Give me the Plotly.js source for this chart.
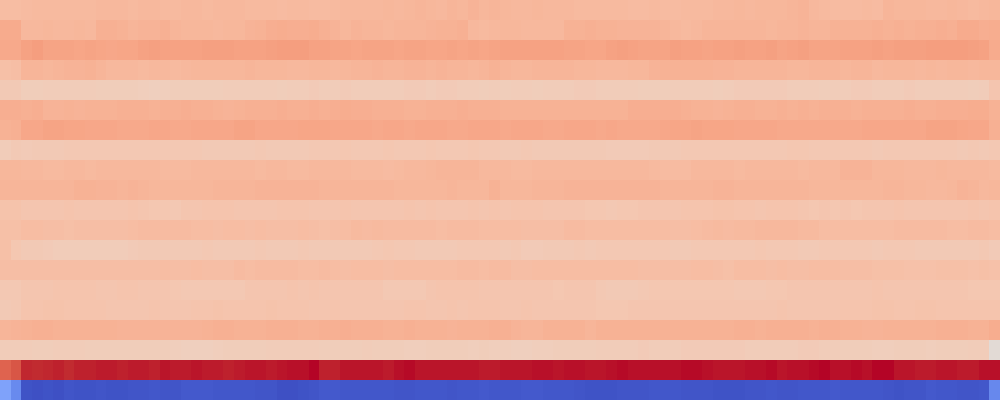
<!DOCTYPE html>
<html>
<head>
<meta charset="utf-8">
<script src="https://cdn.plot.ly/plotly-3.0.1.min.js"></script>
<style>html,body{margin:0;padding:0;background:#fff;}#chart{width:1000px;height:400px;}</style>
</head>
<body>
<div id="chart"></div>
<script>
// Heatmap values: 20 rows (top to bottom) x 94 columns
const row00 = [0.30,0.30,0.31,0.32,0.32,0.32,0.32,0.32,0.32,0.33, 0.33,0.33,0.32,0.33,0.33,0.32,0.32,0.33,0.33,0.32, 0.33,0.33,0.33,0.32,0.32,0.32,0.31,0.32,0.32,0.31, 0.31,0.32,0.33,0.33,0.33,0.33,0.34,0.33,0.34,0.35, 0.34,0.33,0.35,0.34,0.36,0.34,0.35,0.34,0.33,0.33, 0.34,0.33,0.33,0.33,0.32,0.32,0.32,0.32,0.32,0.31, 0.31,0.32,0.31,0.31,0.32,0.32,0.32,0.33,0.33,0.34, 0.33,0.34,0.34,0.34,0.35,0.36,0.33,0.32,0.31,0.31, 0.31,0.32,0.31,0.35,0.34,0.34,0.34,0.33,0.33,0.34, 0.33,0.32,0.33,0.34];
const row01 = [0.41,0.41,0.33,0.33,0.34,0.33,0.33,0.34,0.33,0.38, 0.38,0.37,0.35,0.36,0.36,0.38,0.35,0.34,0.34,0.34, 0.33,0.34,0.34,0.36,0.37,0.39,0.40,0.39,0.39,0.40, 0.38,0.36,0.34,0.36,0.35,0.35,0.34,0.35,0.35,0.35, 0.36,0.37,0.37,0.38,0.33,0.32,0.33,0.34,0.34,0.33, 0.33,0.33,0.33,0.37,0.37,0.38,0.37,0.37,0.36,0.36, 0.36,0.36,0.35,0.33,0.32,0.33,0.35,0.35,0.35,0.35, 0.35,0.35,0.34,0.35,0.35,0.36,0.35,0.35,0.37,0.37, 0.37,0.37,0.38,0.37,0.38,0.37,0.38,0.38,0.39,0.38, 0.41,0.41,0.39,0.40];
const row02 = [0.42,0.42,0.46,0.48,0.45,0.45,0.45,0.44,0.45,0.44, 0.43,0.44,0.44,0.46,0.47,0.46,0.46,0.46,0.46,0.47, 0.47,0.47,0.46,0.46,0.46,0.47,0.48,0.48,0.48,0.46, 0.46,0.45,0.45,0.44,0.45,0.45,0.45,0.44,0.45,0.45, 0.44,0.44,0.45,0.44,0.45,0.44,0.45,0.46,0.46,0.46, 0.46,0.46,0.46,0.45,0.45,0.44,0.44,0.46,0.47,0.46, 0.45,0.45,0.45,0.47,0.46,0.46,0.45,0.46,0.46,0.47, 0.46,0.46,0.47,0.45,0.46,0.47,0.45,0.45,0.45,0.46, 0.46,0.46,0.47,0.46,0.47,0.47,0.47,0.48,0.48,0.48, 0.48,0.47,0.46,0.41];
const row03 = [0.28,0.29,0.35,0.35,0.34,0.35,0.36,0.36,0.37,0.35, 0.33,0.33,0.33,0.32,0.33,0.33,0.32,0.33,0.34,0.34, 0.34,0.34,0.34,0.35,0.34,0.34,0.34,0.33,0.33,0.34, 0.34,0.33,0.34,0.35,0.35,0.36,0.35,0.35,0.36,0.36, 0.35,0.36,0.35,0.35,0.34,0.35,0.37,0.35,0.34,0.34, 0.35,0.35,0.35,0.35,0.34,0.34,0.33,0.33,0.33,0.34, 0.34,0.36,0.37,0.37,0.37,0.37,0.37,0.36,0.36,0.35, 0.35,0.35,0.35,0.35,0.34,0.34,0.35,0.35,0.35,0.34, 0.35,0.35,0.33,0.34,0.34,0.34,0.33,0.34,0.33,0.34, 0.34,0.33,0.34,0.34];
const row04 = [0.21,0.21,0.18,0.18,0.19,0.19,0.19,0.19,0.19,0.18, 0.18,0.18,0.18,0.17,0.16,0.17,0.18,0.18,0.18,0.18, 0.18,0.19,0.19,0.19,0.19,0.19,0.18,0.19,0.19,0.20, 0.19,0.19,0.20,0.19,0.19,0.19,0.19,0.19,0.20,0.20, 0.19,0.20,0.20,0.19,0.19,0.18,0.19,0.18,0.19,0.19, 0.18,0.19,0.19,0.19,0.20,0.20,0.19,0.19,0.19,0.19, 0.18,0.18,0.18,0.19,0.19,0.19,0.19,0.18,0.19,0.20, 0.20,0.20,0.20,0.20,0.19,0.19,0.19,0.18,0.19,0.19, 0.20,0.20,0.19,0.19,0.19,0.20,0.19,0.19,0.19,0.19, 0.19,0.18,0.19,0.24];
const row05 = [0.39,0.39,0.38,0.39,0.36,0.36,0.37,0.36,0.37,0.37, 0.37,0.38,0.38,0.38,0.37,0.38,0.38,0.39,0.38,0.38, 0.37,0.36,0.37,0.38,0.38,0.38,0.39,0.38,0.38,0.39, 0.38,0.39,0.40,0.39,0.39,0.38,0.38,0.38,0.37,0.37, 0.38,0.38,0.38,0.39,0.38,0.38,0.38,0.37,0.37,0.37, 0.37,0.37,0.37,0.37,0.37,0.37,0.37,0.37,0.37,0.39, 0.39,0.39,0.39,0.39,0.38,0.37,0.37,0.36,0.37,0.38, 0.38,0.37,0.37,0.38,0.37,0.38,0.37,0.38,0.38,0.38, 0.37,0.38,0.38,0.38,0.38,0.39,0.38,0.38,0.39,0.39, 0.39,0.40,0.40,0.37];
const row06 = [0.37,0.38,0.43,0.43,0.45,0.45,0.44,0.44,0.43,0.43, 0.43,0.42,0.42,0.42,0.43,0.43,0.42,0.42,0.43,0.43, 0.43,0.43,0.45,0.45,0.43,0.43,0.43,0.43,0.44,0.44, 0.44,0.43,0.43,0.43,0.43,0.42,0.43,0.43,0.42,0.43, 0.43,0.43,0.42,0.42,0.43,0.43,0.43,0.42,0.43,0.43, 0.43,0.42,0.42,0.43,0.43,0.43,0.42,0.43,0.42,0.42, 0.42,0.42,0.43,0.44,0.44,0.45,0.44,0.44,0.44,0.43, 0.43,0.43,0.43,0.42,0.42,0.42,0.42,0.42,0.42,0.42, 0.42,0.43,0.43,0.43,0.43,0.43,0.43,0.45,0.45,0.45, 0.44,0.43,0.43,0.38];
const row07 = [0.19,0.21,0.20,0.21,0.21,0.21,0.22,0.22,0.22,0.22, 0.22,0.22,0.22,0.22,0.22,0.22,0.22,0.22,0.22,0.21, 0.21,0.21,0.21,0.21,0.22,0.21,0.21,0.21,0.21,0.22, 0.22,0.22,0.23,0.22,0.22,0.22,0.23,0.22,0.22,0.22, 0.23,0.22,0.22,0.22,0.23,0.22,0.22,0.21,0.21,0.22, 0.21,0.21,0.21,0.21,0.21,0.21,0.21,0.20,0.20,0.20, 0.20,0.21,0.21,0.21,0.22,0.22,0.22,0.22,0.22,0.22, 0.22,0.22,0.22,0.22,0.23,0.23,0.22,0.22,0.22,0.22, 0.22,0.22,0.21,0.22,0.22,0.22,0.22,0.22,0.22,0.22, 0.21,0.22,0.21,0.22];
const row08 = [0.34,0.34,0.33,0.33,0.32,0.32,0.33,0.33,0.32,0.33, 0.33,0.33,0.33,0.33,0.33,0.32,0.32,0.32,0.33,0.33, 0.33,0.33,0.33,0.33,0.32,0.33,0.33,0.32,0.32,0.33, 0.33,0.33,0.33,0.32,0.32,0.32,0.31,0.32,0.33,0.33, 0.34,0.35,0.35,0.35,0.35,0.33,0.33,0.33,0.32,0.32, 0.33,0.33,0.33,0.33,0.33,0.33,0.33,0.33,0.33,0.33, 0.33,0.32,0.31,0.31,0.31,0.33,0.33,0.33,0.33,0.32, 0.33,0.33,0.33,0.33,0.33,0.32,0.33,0.33,0.33,0.36, 0.36,0.36,0.34,0.34,0.34,0.33,0.33,0.33,0.34,0.33, 0.33,0.33,0.33,0.32];
const row09 = [0.35,0.35,0.35,0.35,0.35,0.35,0.35,0.37,0.37,0.36, 0.36,0.35,0.36,0.35,0.34,0.34,0.34,0.34,0.34,0.34, 0.35,0.35,0.35,0.35,0.36,0.36,0.36,0.36,0.36,0.36, 0.35,0.35,0.35,0.35,0.35,0.35,0.35,0.34,0.34,0.34, 0.34,0.34,0.35,0.34,0.34,0.34,0.37,0.34,0.34,0.34, 0.35,0.35,0.35,0.36,0.36,0.36,0.36,0.36,0.36,0.36, 0.36,0.36,0.35,0.35,0.35,0.35,0.35,0.36,0.36,0.35, 0.35,0.35,0.35,0.35,0.35,0.35,0.34,0.34,0.34,0.34, 0.34,0.34,0.34,0.35,0.35,0.34,0.34,0.33,0.33,0.34, 0.36,0.35,0.33,0.34];
const row10 = [0.26,0.26,0.24,0.24,0.24,0.24,0.25,0.24,0.24,0.24, 0.24,0.24,0.25,0.24,0.23,0.23,0.22,0.24,0.24,0.25, 0.25,0.25,0.24,0.24,0.24,0.24,0.25,0.25,0.25,0.24, 0.24,0.24,0.25,0.24,0.24,0.24,0.24,0.24,0.25,0.24, 0.25,0.24,0.24,0.24,0.25,0.24,0.25,0.24,0.25,0.25, 0.25,0.24,0.24,0.24,0.24,0.23,0.23,0.22,0.23,0.23, 0.24,0.24,0.24,0.24,0.25,0.25,0.25,0.26,0.26,0.25, 0.25,0.24,0.25,0.25,0.25,0.24,0.23,0.24,0.23,0.24, 0.23,0.24,0.24,0.24,0.25,0.24,0.24,0.24,0.24,0.24, 0.24,0.25,0.24,0.25];
const row11 = [0.28,0.28,0.30,0.30,0.29,0.29,0.28,0.29,0.29,0.29, 0.29,0.29,0.30,0.31,0.31,0.31,0.31,0.31,0.30,0.30, 0.29,0.30,0.30,0.29,0.30,0.29,0.29,0.29,0.30,0.29, 0.28,0.29,0.30,0.32,0.31,0.32,0.31,0.31,0.31,0.31, 0.31,0.30,0.31,0.31,0.31,0.30,0.30,0.30,0.30,0.29, 0.29,0.29,0.29,0.31,0.31,0.30,0.30,0.30,0.30,0.30, 0.30,0.30,0.30,0.29,0.29,0.30,0.31,0.32,0.31,0.32, 0.32,0.33,0.33,0.33,0.33,0.32,0.32,0.30,0.30,0.30, 0.30,0.30,0.30,0.30,0.31,0.31,0.31,0.31,0.31,0.30, 0.30,0.31,0.31,0.30];
const row12 = [0.28,0.23,0.21,0.21,0.20,0.19,0.19,0.19,0.19,0.19, 0.19,0.19,0.20,0.21,0.21,0.21,0.21,0.21,0.21,0.22, 0.21,0.21,0.21,0.21,0.22,0.21,0.21,0.21,0.22,0.21, 0.21,0.21,0.21,0.21,0.21,0.22,0.23,0.22,0.22,0.21, 0.21,0.21,0.21,0.22,0.22,0.22,0.22,0.21,0.22,0.20, 0.20,0.21,0.21,0.21,0.22,0.21,0.22,0.22,0.22,0.22, 0.22,0.22,0.22,0.21,0.21,0.22,0.22,0.22,0.22,0.22, 0.22,0.23,0.22,0.22,0.22,0.21,0.21,0.22,0.22,0.22, 0.22,0.22,0.21,0.22,0.22,0.22,0.21,0.21,0.21,0.21, 0.21,0.21,0.22,0.20];
const row13 = [0.29,0.29,0.29,0.29,0.29,0.29,0.29,0.29,0.29,0.29, 0.29,0.29,0.29,0.29,0.29,0.30,0.29,0.29,0.30,0.29, 0.29,0.29,0.31,0.30,0.31,0.31,0.31,0.31,0.30,0.30, 0.31,0.30,0.29,0.30,0.30,0.30,0.29,0.30,0.30,0.30, 0.30,0.30,0.30,0.31,0.31,0.30,0.31,0.31,0.29,0.29, 0.30,0.30,0.30,0.30,0.30,0.30,0.30,0.30,0.30,0.30, 0.29,0.29,0.29,0.29,0.29,0.30,0.30,0.29,0.28,0.30, 0.30,0.30,0.29,0.30,0.29,0.29,0.30,0.30,0.30,0.29, 0.29,0.29,0.28,0.28,0.28,0.27,0.27,0.27,0.28,0.28, 0.28,0.27,0.28,0.27];
const row14 = [0.22,0.22,0.24,0.24,0.24,0.25,0.25,0.25,0.25,0.24, 0.24,0.25,0.25,0.24,0.24,0.24,0.23,0.22,0.22,0.22, 0.22,0.22,0.22,0.24,0.24,0.24,0.24,0.25,0.24,0.25, 0.24,0.24,0.24,0.24,0.24,0.24,0.22,0.22,0.22,0.22, 0.24,0.25,0.25,0.25,0.25,0.24,0.24,0.24,0.24,0.24, 0.24,0.24,0.23,0.24,0.24,0.24,0.22,0.21,0.21,0.21, 0.22,0.23,0.23,0.23,0.23,0.23,0.23,0.23,0.23,0.22, 0.22,0.22,0.23,0.23,0.24,0.24,0.24,0.24,0.24,0.24, 0.24,0.24,0.25,0.24,0.24,0.24,0.24,0.24,0.24,0.24, 0.24,0.23,0.23,0.23];
const row15 = [0.21,0.22,0.25,0.25,0.26,0.26,0.25,0.25,0.25,0.25, 0.24,0.24,0.24,0.24,0.25,0.24,0.24,0.24,0.25,0.25, 0.26,0.25,0.25,0.25,0.25,0.26,0.25,0.25,0.25,0.24, 0.24,0.25,0.24,0.24,0.24,0.24,0.24,0.24,0.25,0.25, 0.24,0.24,0.25,0.24,0.25,0.25,0.25,0.24,0.24,0.25, 0.24,0.24,0.24,0.24,0.24,0.24,0.23,0.23,0.23,0.24, 0.24,0.24,0.24,0.24,0.24,0.24,0.24,0.24,0.24,0.24, 0.24,0.24,0.24,0.25,0.24,0.24,0.24,0.24,0.24,0.25, 0.25,0.25,0.26,0.26,0.25,0.25,0.26,0.26,0.25,0.25, 0.25,0.25,0.25,0.25];
const row16 = [0.35,0.36,0.37,0.38,0.38,0.37,0.37,0.37,0.37,0.37, 0.37,0.36,0.36,0.36,0.36,0.36,0.36,0.36,0.36,0.37, 0.38,0.38,0.37,0.37,0.37,0.38,0.38,0.38,0.37,0.37, 0.38,0.38,0.39,0.38,0.38,0.38,0.37,0.37,0.38,0.37, 0.37,0.37,0.36,0.37,0.37,0.37,0.38,0.38,0.36,0.35, 0.35,0.37,0.37,0.37,0.37,0.35,0.37,0.37,0.37,0.37, 0.37,0.37,0.37,0.37,0.37,0.37,0.37,0.37,0.37,0.38, 0.38,0.37,0.38,0.38,0.38,0.38,0.37,0.38,0.38,0.37, 0.37,0.36,0.36,0.37,0.37,0.37,0.37,0.37,0.38,0.38, 0.38,0.37,0.37,0.40];
const row17 = [0.19,0.19,0.19,0.18,0.18,0.19,0.19,0.19,0.18,0.18, 0.18,0.18,0.18,0.18,0.18,0.18,0.17,0.16,0.16,0.16, 0.17,0.18,0.18,0.18,0.18,0.19,0.19,0.19,0.19,0.19, 0.18,0.18,0.18,0.18,0.19,0.18,0.18,0.18,0.17,0.17, 0.18,0.18,0.18,0.18,0.17,0.18,0.17,0.17,0.16,0.16, 0.17,0.17,0.18,0.18,0.18,0.18,0.19,0.19,0.19,0.19, 0.20,0.19,0.19,0.19,0.20,0.20,0.20,0.20,0.20,0.20, 0.19,0.19,0.19,0.19,0.19,0.20,0.20,0.19,0.19,0.18, 0.18,0.18,0.17,0.17,0.18,0.18,0.18,0.17,0.18,0.18, 0.18,0.19,0.19,0.04];
const row18 = [0.74,0.79,0.94,0.93,0.94,0.95,0.93,0.95,0.95,0.96, 0.96,0.95,0.96,0.96,0.95,0.97,0.96,0.96,0.97,0.96, 0.96,0.95,0.96,0.97,0.97,0.96,0.97,0.98,0.98,1.00, 0.95,0.95,0.97,0.97,0.97,0.97,0.96,0.98,0.99,0.97, 0.97,0.97,0.97,0.97,0.97,0.96,0.96,0.97,0.97,0.97, 0.98,0.98,0.97,0.98,0.98,0.97,0.97,0.98,0.99,0.98, 0.98,0.98,0.98,0.98,0.99,0.99,0.98,0.97,0.97,0.97, 0.98,0.98,0.99,0.97,0.98,0.98,0.99,1.00,0.98,0.98, 0.99,0.98,1.00,1.00,0.97,0.97,0.96,0.96,0.97,0.97, 0.96,0.96,0.98,0.98];
const row19 = [-0.58,-0.71,-0.97,-0.98,-0.97,-0.98,-0.96,-0.97,-0.97,-0.96, -0.97,-0.97,-0.96,-0.96,-0.95,-0.96,-0.96,-0.94,-0.94,-0.94, -0.95,-0.95,-0.95,-0.95,-0.96,-0.96,-0.98,-0.98,-0.97,-0.96, -0.94,-0.94,-0.95,-0.95,-0.95,-0.95,-0.95,-0.96,-0.96,-0.95, -0.95,-0.95,-0.96,-0.95,-0.95,-0.94,-0.95,-0.95,-0.95,-0.94, -0.94,-0.95,-0.95,-0.95,-0.96,-0.97,-0.97,-0.97,-0.96,-0.96, -0.96,-0.95,-0.95,-0.95,-0.96,-0.96,-0.96,-0.97,-0.97,-0.97, -0.96,-0.96,-0.95,-0.96,-0.96,-0.95,-0.95,-0.95,-0.94,-0.95, -0.95,-0.95,-0.95,-0.96,-0.97,-0.96,-0.96,-0.94,-0.95,-0.95, -0.96,-0.96,-0.95,-0.72];

const rows = [row00,row01,row02,row03,row04,row05,row06,row07,row08,row09,
              row10,row11,row12,row13,row14,row15,row16,row17,row18,row19];

// coolwarm colour scale (Moreland)
const cwR = [0.2298,0.2662,0.3039,0.3428,0.3830,0.4244,0.4667,0.5096,0.5530,0.5963,0.6392,0.6813,0.7222,0.7615,0.7987,0.8335,0.8654,0.8978,0.9241,0.9445,0.9589,0.9673,0.9700,0.9668,0.9580,0.9437,0.9239,0.8990,0.8692,0.8346,0.7956,0.7525,0.7057];
const cwG = [0.2987,0.3531,0.4065,0.4588,0.5094,0.5581,0.6046,0.6483,0.6889,0.7261,0.7596,0.7890,0.8140,0.8343,0.8498,0.8602,0.8654,0.8489,0.8274,0.8009,0.7698,0.7341,0.6943,0.6504,0.6028,0.5518,0.4973,0.4396,0.3783,0.3129,0.2413,0.1572,0.0156];
const cwB = [0.7537,0.8015,0.8450,0.8837,0.9174,0.9456,0.9682,0.9848,0.9954,0.9998,0.9982,0.9904,0.9766,0.9569,0.9317,0.9011,0.8654,0.8209,0.7745,0.7267,0.6780,0.6288,0.5794,0.5303,0.4818,0.4342,0.3880,0.3432,0.3003,0.2593,0.2205,0.1841,0.1502];
const colorscale = cwR.map((r, i) => [i / (cwR.length - 1),
  'rgb(' + Math.round(r * 255) + ',' + Math.round(cwG[i] * 255) + ',' + Math.round(cwB[i] * 255) + ')']);

const trace = {
  type: 'heatmap',
  z: rows,
  zmin: -1,
  zmax: 1,
  colorscale: colorscale,
  showscale: false,
  xgap: 0,
  ygap: 0,
  hoverinfo: 'z'
};

const layout = {
  width: 1000,
  height: 400,
  margin: {l: 0, r: 0, t: 0, b: 0, pad: 0},
  paper_bgcolor: '#ffffff',
  plot_bgcolor: '#ffffff',
  xaxis: {visible: false, showgrid: false, zeroline: false, fixedrange: true},
  yaxis: {visible: false, showgrid: false, zeroline: false, autorange: 'reversed', fixedrange: true},
  showlegend: false
};

Plotly.newPlot('chart', [trace], layout, {displayModeBar: false, staticPlot: true});
</script>
</body>
</html>
